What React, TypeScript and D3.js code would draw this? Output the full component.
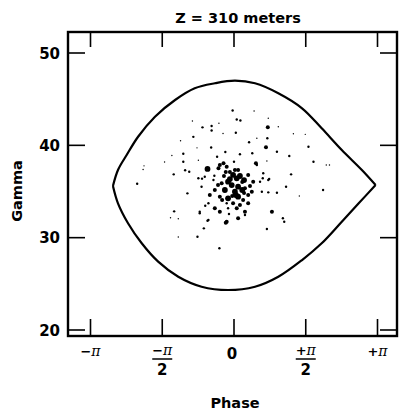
import React from 'react';
import * as d3 from 'd3';

// separatrix: [phase (rad), gamma]
const upperBranch: [number, number][] = [
  [-2.65, 35.6], [-2.54, 37.33], [-2.35, 38.95], [-2.1, 40.93], [-1.73, 43.1],
  [-1.29, 44.91], [-0.86, 46.18], [-0.42, 46.72], [0.02, 47.0], [0.46, 46.72],
  [0.97, 45.64], [1.49, 44.01], [1.92, 41.84], [2.36, 39.49], [2.8, 37.33], [3.1, 35.7],
];
const lowerBranch: [number, number][] = [
  [-2.65, 35.6], [-2.54, 33.72], [-2.32, 31.56], [-2.02, 29.39], [-1.66, 27.4],
  [-1.22, 25.77], [-0.71, 24.69], [-0.13, 24.33], [0.46, 24.69], [0.97, 25.77],
  [1.49, 27.58], [1.92, 29.39], [2.36, 31.73], [2.73, 33.72], [3.1, 35.7],
];

// particles: [phase, gamma, dot size 1..4]
const particles: [number, number, number][] = [
  [-0.03, 43.77, 2], [0.06, 42.8, 2], [0.14, 42.69, 2], [-0.91, 42.63, 1], [-0.69, 41.95, 2],
  [-0.49, 42.09, 2], [-0.33, 42.39, 1], [-0.49, 41.61, 2], [-0.24, 41.28, 1], [0.04, 41.37, 2],
  [-0.89, 40.92, 2], [-1.17, 40.5, 1], [-0.5, 39.76, 2], [-0.81, 39.73, 1], [-0.19, 39.28, 2],
  [-0.37, 38.77, 2], [-1.36, 38.9, 1], [-1.11, 39.09, 2], [-0.78, 38.38, 1], [-1.11, 38.23, 2],
  [-1.52, 38.19, 1], [-1.97, 37.78, 1], [-1.99, 37.38, 1], [-1.07, 37.3, 2], [-0.98, 37.14, 2],
  [-0.58, 37.44, 4], [-1.32, 36.86, 2], [-0.43, 36.71, 2], [-0.7, 36.39, 2], [-2.12, 35.84, 2],
  [0.44, 43.72, 1], [0.75, 42.93, 1], [0.74, 41.95, 3], [0.97, 42.02, 1], [0.5, 40.76, 1],
  [0.73, 40.76, 2], [1.3, 41.26, 1], [1.56, 41.19, 1], [0.33, 40.33, 2], [0.7, 39.79, 3],
  [0.94, 39.31, 2], [1.63, 39.85, 2], [0.13, 39.03, 2], [0.4, 39.14, 2], [1.21, 38.84, 2],
  [0.0, 38.23, 2], [0.48, 38.05, 3], [0.72, 38.3, 1], [1.74, 38.23, 2], [2.02, 37.87, 1],
  [2.09, 37.87, 1], [1.25, 36.86, 2], [0.63, 36.43, 2], [0.77, 36.35, 2],
  [-1.02, 34.8, 2], [-1.31, 32.85, 2], [-1.39, 32.16, 1], [-1.22, 32.05, 1], [-0.75, 32.64, 2],
  [-0.63, 33.46, 2], [-0.58, 31.84, 2], [-0.66, 31.01, 2], [-0.8, 30.1, 2], [-1.22, 30.07, 1],
  [-0.32, 28.85, 2], [-0.18, 31.62, 3], [0.75, 36.24, 2], [1.14, 35.52, 2], [0.75, 34.91, 2],
  [0.94, 34.87, 2], [1.43, 34.51, 1], [1.95, 35.16, 2], [0.83, 32.81, 3], [1.07, 32.1, 2],
  [1.1, 31.73, 2], [0.72, 30.94, 2],
  [-0.31, 37.87, 3], [-0.23, 38.05, 3], [-0.16, 37.69, 3], [-0.34, 37.51, 3], [0.09, 37.33, 3],
  [-0.02, 36.79, 4], [0.06, 36.43, 4], [0.13, 36.68, 4], [0.31, 36.79, 3], [0.5, 37.87, 2],
  [0.64, 36.97, 2], [0.42, 36.06, 3], [0.57, 36.06, 2], [-0.78, 36.43, 2], [-0.64, 36.6, 2],
  [-0.45, 36.24, 2], [-0.27, 35.89, 3], [-0.13, 36.06, 4], [-0.05, 35.7, 4], [0.09, 35.52, 4],
  [0.24, 35.35, 3], [0.39, 34.98, 3], [0.61, 34.98, 2], [-0.2, 35.16, 4], [0.02, 34.98, 4],
  [-0.42, 35.16, 3], [-0.53, 34.62, 3], [-0.71, 35.52, 2], [-0.31, 34.44, 3], [-0.13, 34.26, 4],
  [0.09, 34.44, 4], [0.2, 34.08, 3], [0.31, 33.72, 3], [-0.02, 33.72, 3], [-0.16, 33.72, 2],
  [-0.56, 33.72, 2], [-0.42, 33.18, 3], [-0.31, 32.81, 3], [-0.13, 33.18, 2], [0.06, 33.18, 3],
  [0.24, 32.81, 3], [0.09, 32.1, 3], [0.24, 32.45, 2], [-0.16, 31.73, 3], [-0.56, 31.91, 2],
  [-0.75, 32.81, 2], [-0.09, 36.35, 4], [0.18, 36.03, 3], [0.04, 34.62, 4], [-0.22, 36.68, 3],
  [0.22, 34.84, 3], [-0.09, 37.11, 3], [0.35, 35.6, 3],
  [-0.18, 37.11, 3], [0.22, 36.24, 4], [-0.04, 34.51, 3], [0.13, 33.54, 3], [-0.26, 34.08, 3],
  [0.31, 34.62, 3], [-0.35, 35.7, 3], [0.02, 37.33, 3], [-0.11, 32.56, 2], [0.18, 35.16, 4],
];

const gammaTicks = [20, 30, 40, 50];
const phaseTicks = [-Math.PI, -Math.PI / 2, 0, Math.PI / 2, Math.PI];
const phaseLabels = [
  { sign: '−', pi: true, den: '' },
  { sign: '−', pi: true, den: '2' },
  { sign: '0', pi: false, den: '' },
  { sign: '+', pi: true, den: '2' },
  { sign: '+', pi: true, den: '' },
];

const dotRadius = [0, 0.7, 1.2, 2.0, 2.9];

export default function App() {
  const left = 68, right = 397, top = 32, bottom = 336;
  const x = d3.scaleLinear().domain([-Math.PI, Math.PI]).range([90.5, 377.5]);
  const y = d3.scaleLinear().domain([20, 50]).range([330, 53]);

  const line = d3.line<[number, number]>()
    .x(d => x(d[0]))
    .y(d => y(d[1]))
    .curve(d3.curveCatmullRom.alpha(0.5));

  const font = '"DejaVu Sans", sans-serif';
  const piFont = '"DejaVu Serif", serif';

  const numerator = (lab: typeof phaseLabels[number], cx: number, yy: number) => (
    <text x={cx} y={yy} textAnchor="middle" fontSize={13}>
      {lab.sign}
      <tspan fontFamily={piFont} fontStyle="italic" fontWeight="normal" fontSize={14}>π</tspan>
    </text>
  );

  return (
    <svg width={402} height={415} style={{ position: 'absolute', left: 0, top: 0, background: '#fff' }}
      fontFamily={font} fontWeight="bold">
      <text x={238} y={23} textAnchor="middle" fontSize={14.5}>Z = 310 meters</text>

      {/* frame */}
      <rect x={left} y={top} width={right - left} height={bottom - top}
        fill="none" stroke="#000" strokeWidth={2.4} />

      {/* ticks */}
      {phaseTicks.map((t, i) => (
        <g key={'xt' + i}>
          <line x1={x(t)} x2={x(t)} y1={bottom} y2={bottom - 17} stroke="#000" strokeWidth={1.6} />
          <line x1={x(t)} x2={x(t)} y1={top} y2={top + 15} stroke="#000" strokeWidth={1.6} />
        </g>
      ))}
      {gammaTicks.map(t => (
        <g key={'yt' + t}>
          <line x1={left} x2={left + 17} y1={y(t)} y2={y(t)} stroke="#000" strokeWidth={1.6} />
          <line x1={right} x2={right - 17} y1={y(t)} y2={y(t)} stroke="#000" strokeWidth={1.6} />
          <text x={60} y={y(t) + 5.5} textAnchor="end" fontSize={15}>{t}</text>
        </g>
      ))}

      {/* phase tick labels */}
      {phaseTicks.map((t, i) => {
        const lab = phaseLabels[i];
        const cx = x(t);
        if (!lab.pi) {
          return <text key={'xl' + i} x={cx - 2} y={359} textAnchor="middle" fontSize={15}>{lab.sign}</text>;
        }
        if (!lab.den) {
          return <g key={'xl' + i}>{numerator(lab, cx, 356)}</g>;
        }
        return (
          <g key={'xl' + i}>
            {numerator(lab, cx, 355)}
            <line x1={cx - 10} x2={cx + 10} y1={359} y2={359} stroke="#000" strokeWidth={1.5} />
            <text x={cx} y={375} textAnchor="middle" fontSize={15}>{lab.den}</text>
          </g>
        );
      })}

      <text x={235} y={408} textAnchor="middle" fontSize={14.5}>Phase</text>
      <text transform="translate(22,191) rotate(-90)" textAnchor="middle" fontSize={14.5}>Gamma</text>

      {/* separatrix */}
      <path d={line(upperBranch) ?? ''} fill="none" stroke="#000" strokeWidth={2.2} />
      <path d={line(lowerBranch) ?? ''} fill="none" stroke="#000" strokeWidth={2.2} />

      {/* particles */}
      {particles.map((p, i) => (
        <circle key={'p' + i} cx={x(p[0])} cy={y(p[1])} r={dotRadius[p[2]]} fill="#000" />
      ))}
    </svg>
  );
}
